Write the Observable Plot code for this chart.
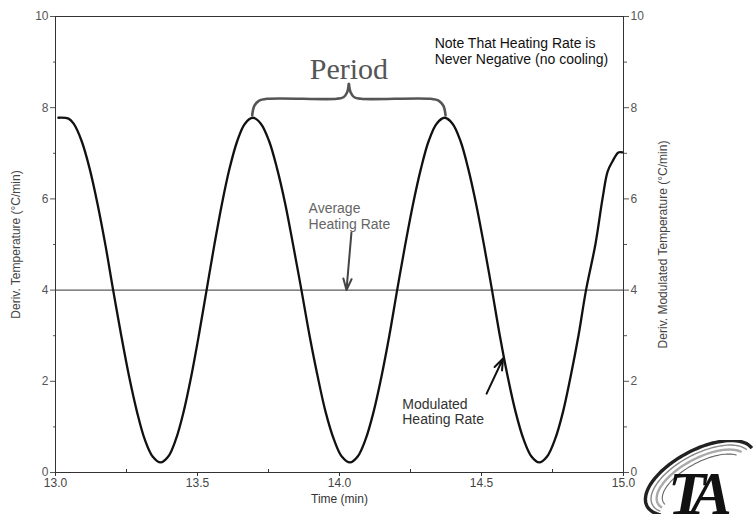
<!DOCTYPE html>
<html>
<head>
<meta charset="utf-8">
<script src="https://cdn.jsdelivr.net/npm/d3@7"></script>
<script src="https://cdn.jsdelivr.net/npm/@observablehq/plot@0.6"></script>
<style>
  body { margin: 0; background: #fff; }
  #wrap { position: relative; width: 754px; height: 514px; overflow: hidden; }
  #logo { position: absolute; left: 640px; top: 440px; }
</style>
</head>
<body>
<div id="wrap"></div>
<script>
// ---- data ----
const timeMin = [
  13.010, 13.046, 13.064, 13.092, 13.120, 13.148, 13.176, 13.203, 13.231, 13.259, 13.287, 13.314, 13.342, 13.370,
  13.397, 13.424, 13.451, 13.478, 13.505, 13.532, 13.559, 13.586, 13.613, 13.640, 13.667, 13.695,
  13.723, 13.752, 13.780, 13.809, 13.837, 13.866, 13.894, 13.923, 13.951, 13.980, 14.008, 14.037,
  14.064, 14.092, 14.120, 14.148, 14.176, 14.203, 14.231, 14.259, 14.287, 14.314, 14.342, 14.370,
  14.398, 14.426, 14.453, 14.481, 14.509, 14.537, 14.564, 14.592, 14.620, 14.648, 14.676, 14.703,
  14.731, 14.759, 14.787, 14.814, 14.842, 14.868, 14.901, 14.926, 14.944, 14.961, 14.982, 14.996
];
const heatingRate = [
  7.78, 7.76, 7.65, 7.27, 6.67, 5.89, 4.98, 4.00, 3.02, 2.11, 1.33, 0.73, 0.35, 0.22,
  0.35, 0.73, 1.33, 2.11, 3.02, 4.00, 4.98, 5.89, 6.67, 7.27, 7.65, 7.78,
  7.65, 7.27, 6.67, 5.89, 4.98, 4.00, 3.02, 2.11, 1.33, 0.73, 0.35, 0.22,
  0.35, 0.73, 1.33, 2.11, 3.02, 4.00, 4.98, 5.89, 6.67, 7.27, 7.65, 7.78,
  7.65, 7.27, 6.67, 5.89, 4.98, 4.00, 3.02, 2.11, 1.33, 0.73, 0.35, 0.22,
  0.35, 0.73, 1.33, 2.11, 3.02, 4.00, 5.00, 6.00, 6.60, 6.82, 7.02, 7.02
];
const averageRate = [4];
const xTicks = [13.0, 13.5, 14.0, 14.5, 15.0];
const xMinorTicks = [13.25, 13.75, 14.25, 14.75];
const yTicks = [0, 2, 4, 6, 8, 10];
const yMinorTicks = [1, 3, 5, 7, 9];
const xLabel = "Time (min)";
const yLeftLabel = "Deriv. Temperature (°C/min)";
const yRightLabel = "Deriv. Modulated Temperature (°C/min)";

// annotations (data coordinates)
const braceLeft = [
  {x: 13.6926, y: 7.83}, {x: 13.700, y: 8.04}, {x: 13.716, y: 8.15}, {x: 13.745, y: 8.195},
  {x: 13.990, y: 8.195}, {x: 14.014, y: 8.23}, {x: 14.027, y: 8.34}, {x: 14.033, y: 8.52}
];
const braceRight = [
  {x: 14.033, y: 8.52}, {x: 14.039, y: 8.34}, {x: 14.052, y: 8.23}, {x: 14.076, y: 8.195},
  {x: 14.321, y: 8.195}, {x: 14.350, y: 8.15}, {x: 14.366, y: 8.04}, {x: 14.3735, y: 7.83}
];
const periodLabel = [{x: 14.033, y: 8.64, text: "Period"}];
const noteLabel = [{x: 14.335, y: 9.57, text: "Note That Heating Rate is\nNever Negative (no cooling)"}];
const avgLabel = [{x: 13.891, y: 5.945, text: "Average\nHeating Rate"}];
const modLabel = [{x: 14.221, y: 1.638, text: "Modulated\nHeating Rate"}];
const avgArrow = [{x1: 14.042, y1: 5.26, x2: 14.0246, y2: 4.0}];
const modArrow = [{x1: 14.518, y1: 1.73, x2: 14.576, y2: 2.5}];

const rows = timeMin.map((t, i) => ({t, v: heatingRate[i]}));
const brace = [...braceLeft.map(d => ({...d, side: "L"})), ...braceRight.map(d => ({...d, side: "R"}))];

const font = "'Liberation Sans', Arial, sans-serif";

const chart = Plot.plot({
  width: 754,
  height: 514,
  marginLeft: 55,
  marginRight: 131,
  marginTop: 16,
  marginBottom: 42,
  x: {domain: [13, 15]},
  y: {domain: [0, 10]},
  style: {fontFamily: font, fontSize: "12px", color: "#555", background: "#fff", overflow: "visible"},
  marks: [
    Plot.axisX(xTicks, {anchor: "bottom", tickSize: 4, tickPadding: 2, tickFormat: d3.format(".1f"), label: null, fontSize: 12, stroke: "#333", fill: "#444"}),
    Plot.axisX(xMinorTicks, {anchor: "bottom", tickSize: -3, tickFormat: () => "", label: null, stroke: "#333"}),
    Plot.axisY(yTicks, {anchor: "left", tickSize: 5, tickPadding: 2, tickFormat: d => String(d), label: null, fontSize: 12, stroke: "#555", fill: "#555"}),
    Plot.axisY(yMinorTicks, {anchor: "left", tickSize: 2, tickFormat: () => "", label: null, stroke: "#555"}),
    Plot.axisY(yTicks, {anchor: "right", tickSize: 5, tickPadding: 2, tickFormat: d => String(d), label: null, fontSize: 12, stroke: "#555", fill: "#555"}),
    Plot.axisY(yMinorTicks, {anchor: "right", tickSize: 3, tickFormat: () => "", label: null, stroke: "#555"}),
    Plot.frame({stroke: "#333", strokeWidth: 1}),
    Plot.ruleY(averageRate, {stroke: "#333", strokeWidth: 1}),
    Plot.line(rows, {x: "t", y: "v", curve: "catmull-rom", stroke: "#111", strokeWidth: 2.3}),
    Plot.line(brace, {x: "x", y: "y", z: "side", curve: "catmull-rom", stroke: "#555", strokeWidth: 2.6, strokeLinecap: "round"}),
    Plot.text(periodLabel, {x: "x", y: "y", text: "text", textAnchor: "middle", lineAnchor: "bottom", fontSize: 30, fontFamily: "'Liberation Serif', 'Times New Roman', serif", fill: "#555"}),
    Plot.text(noteLabel, {x: "x", y: "y", text: "text", textAnchor: "start", lineAnchor: "top", fontSize: 14, lineHeight: 1.15, fill: "#111"}),
    Plot.text(avgLabel, {x: "x", y: "y", text: "text", textAnchor: "start", lineAnchor: "top", fontSize: 14, lineHeight: 1.15, fill: "#666"}),
    Plot.text(modLabel, {x: "x", y: "y", text: "text", textAnchor: "start", lineAnchor: "top", fontSize: 14, lineHeight: 1.08, fill: "#333"}),
    Plot.arrow(avgArrow, {x1: "x1", y1: "y1", x2: "x2", y2: "y2", stroke: "#444", strokeWidth: 2, headLength: 9, headAngle: 40}),
    Plot.arrow(modArrow, {x1: "x1", y1: "y1", x2: "x2", y2: "y2", stroke: "#111", strokeWidth: 2, headLength: 9, headAngle: 40}),
    Plot.text([yLeftLabel], {frameAnchor: "left", dx: -39, rotate: -90, textAnchor: "middle", text: d => d, fontSize: 12, fill: "#444"}),
    Plot.text([yRightLabel], {frameAnchor: "right", dx: 40, rotate: -90, textAnchor: "middle", text: d => d, fontSize: 12, fill: "#444"}),
    Plot.text([xLabel], {frameAnchor: "bottom", dy: 30, text: d => d, fontSize: 12, fill: "#333"})
  ]
});

const wrap = document.getElementById("wrap");
wrap.appendChild(chart);

// TA logo (decoration, not data)
function ellArc(cx, cy, rx, ry, rotDeg, t0, t1) {
  const p = rotDeg * Math.PI / 180, c = Math.cos(p), s = Math.sin(p);
  const pts = [];
  for (let k = 0; k <= 60; k++) {
    const t = (t0 + (t1 - t0) * k / 60) * Math.PI / 180;
    const ex = rx * Math.cos(t), ey = ry * Math.sin(t);
    pts.push([cx + ex * c - ey * s, cy + ex * s + ey * c]);
  }
  return "M" + pts.map(q => q[0].toFixed(1) + "," + q[1].toFixed(1)).join("L");
}
wrap.insertAdjacentHTML("beforeend", `
<svg id="logo" width="114" height="74" viewBox="0 0 114 74">
  <path d="${ellArc(60, 38, 60, 28, -28, 150, 356)}" fill="none" stroke="#222" stroke-width="3.4"/>
  <path d="${ellArc(61, 39, 55, 25, -28, 158, 350)}" fill="none" stroke="#888" stroke-width="1.4"/>
  <path d="${ellArc(62, 40, 50, 22, -28, 165, 344)}" fill="none" stroke="#aaa" stroke-width="2.4"/>
  <path d="${ellArc(63, 41, 45, 19, -28, 172, 338)}" fill="none" stroke="#666" stroke-width="1.1"/>
  <text x="28" y="74" font-family="'Liberation Serif', 'Times New Roman', serif" font-size="62" font-style="italic" font-weight="bold" fill="#111" letter-spacing="-12">TA</text>
</svg>`);
</script>
</body>
</html>
